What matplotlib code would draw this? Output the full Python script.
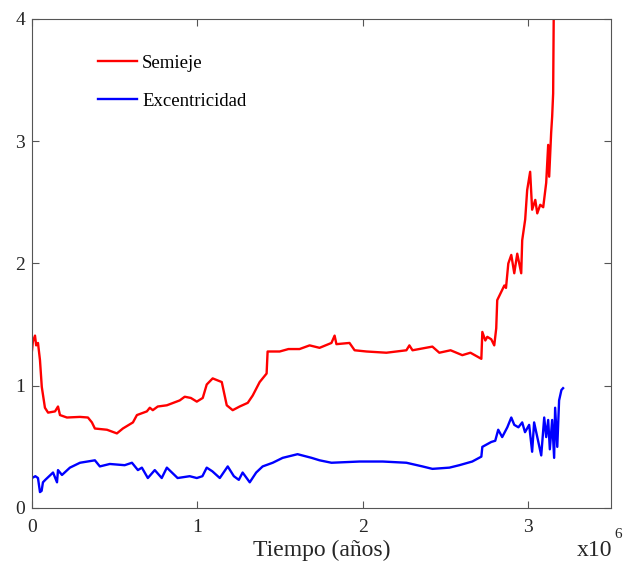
import numpy as np
import matplotlib.pyplot as plt

plt.rcParams['font.family'] = ['Liberation Serif', 'DejaVu Serif']

# Semieje (rojo): tiempo en millones de años
t_semieje = [0.0, 0.005, 0.018, 0.025, 0.036, 0.048, 0.059, 0.078, 0.097, 0.139,
             0.157, 0.169, 0.211, 0.29, 0.338, 0.362, 0.38, 0.453, 0.513, 0.549,
             0.61, 0.634, 0.694, 0.712, 0.73, 0.76, 0.815, 0.893, 0.923, 0.96,
             0.996, 1.032, 1.056, 1.092, 1.147, 1.177, 1.213, 1.255, 1.304, 1.334,
             1.376, 1.418, 1.424, 1.497, 1.55, 1.617, 1.678, 1.738, 1.81, 1.829,
             1.84, 1.919, 1.95, 2.022, 2.142, 2.263, 2.281, 2.3, 2.42, 2.462,
             2.53, 2.601, 2.65, 2.716, 2.722, 2.74, 2.752, 2.776, 2.794, 2.806,
             2.812, 2.855, 2.865, 2.879, 2.897, 2.915, 2.933, 2.957, 2.963, 2.981,
             2.993, 3.011, 3.023, 3.042, 3.054, 3.072, 3.09, 3.108, 3.12, 3.126,
             3.138, 3.144, 3.15, 3.155]
semieje = [1.29, 1.36, 1.41, 1.33, 1.35, 1.21, 0.99, 0.82, 0.78, 0.79,
           0.83, 0.76, 0.74, 0.745, 0.74, 0.70, 0.65, 0.64, 0.61, 0.65,
           0.70, 0.76, 0.79, 0.82, 0.80, 0.83, 0.84, 0.88, 0.91, 0.90,
           0.87, 0.90, 1.01, 1.06, 1.03, 0.84, 0.80, 0.83, 0.86, 0.92,
           1.03, 1.10, 1.28, 1.28, 1.30, 1.30, 1.33, 1.31, 1.35, 1.41,
           1.34, 1.35, 1.29, 1.28, 1.27, 1.29, 1.33, 1.29, 1.32, 1.27,
           1.29, 1.25, 1.27, 1.22, 1.44, 1.37, 1.40, 1.38, 1.33, 1.47,
           1.70, 1.82, 1.80, 2.00, 2.07, 1.92, 2.08, 1.92, 2.19, 2.36,
           2.60, 2.75, 2.44, 2.52, 2.41, 2.48, 2.46, 2.66, 2.97, 2.71,
           3.07, 3.20, 3.39, 4.30]

# Excentricidad (azul)
t_excen = [0.0, 0.02, 0.036, 0.048, 0.058, 0.066, 0.08, 0.127, 0.151, 0.157,
           0.181, 0.229, 0.29, 0.38, 0.41, 0.47, 0.56, 0.604, 0.64, 0.664,
           0.7, 0.742, 0.784, 0.815, 0.88, 0.953, 0.996, 1.03, 1.056, 1.09,
           1.135, 1.183, 1.22, 1.25, 1.273, 1.316, 1.355, 1.394, 1.455, 1.515,
           1.605, 1.69, 1.738, 1.81, 1.98, 2.12, 2.263, 2.36, 2.42, 2.523,
           2.583, 2.661, 2.716, 2.722, 2.776, 2.8, 2.818, 2.842, 2.873, 2.897,
           2.915, 2.94, 2.963, 2.98, 3.005, 3.023, 3.035, 3.078, 3.096, 3.108,
           3.12, 3.13, 3.144, 3.156, 3.162, 3.175, 3.186, 3.2, 3.21]
excentricidad = [0.245, 0.26, 0.245, 0.13, 0.14, 0.21, 0.23, 0.29, 0.21, 0.31,
                 0.27, 0.33, 0.37, 0.39, 0.34, 0.36, 0.35, 0.37, 0.31, 0.33,
                 0.245, 0.31, 0.245, 0.33, 0.245, 0.26, 0.245, 0.26, 0.33, 0.30,
                 0.245, 0.34, 0.26, 0.23, 0.29, 0.21, 0.29, 0.34, 0.37, 0.41,
                 0.44, 0.41, 0.39, 0.37, 0.38, 0.38, 0.37, 0.34, 0.32, 0.33,
                 0.35, 0.38, 0.42, 0.50, 0.54, 0.55, 0.64, 0.58, 0.66, 0.74,
                 0.68, 0.66, 0.70, 0.62, 0.68, 0.46, 0.70, 0.43, 0.74, 0.58,
                 0.72, 0.48, 0.72, 0.41, 0.82, 0.50, 0.88, 0.965, 0.98]

fig = plt.figure(figsize=(6.28, 5.66), dpi=100)
ax = fig.add_axes([0.051, 0.1025, 0.922, 0.864])

ax.plot(t_semieje, semieje, color='#ff0000', lw=1.7, label='Semieje')
ax.plot(t_excen, excentricidad, color='#0000ff', lw=1.7, label='Excentricidad')

ax.set_xlim(0, 3.5)
ax.set_ylim(0, 4)
ax.set_xticks([0, 1, 2, 3])
ax.set_yticks([0, 1, 2, 3, 4])
ax.tick_params(direction='in', length=5, width=0.8, color='#555555',
               labelsize=14, labelcolor='#262626', top=True, right=True, pad=5)
ax.tick_params(axis='x', pad=8)
for s in ax.spines.values():
    s.set_color('#555555')
    s.set_linewidth(0.8)

ax.set_xlabel('Tiempo (años)', fontsize=17, color='#262626', labelpad=3)
fig.text(0.919, 0.018, 'x10', fontsize=17, color='#262626')
fig.text(0.979, 0.05, '6', fontsize=11, color='#262626')

ax.legend(loc='upper left', bbox_to_anchor=(0.114, 0.927), frameon=False,
          fontsize=13.5, handlelength=2.1, labelspacing=1.1, handletextpad=0.25,
          borderpad=0, borderaxespad=0)

fig.savefig('out.png', dpi=100)
